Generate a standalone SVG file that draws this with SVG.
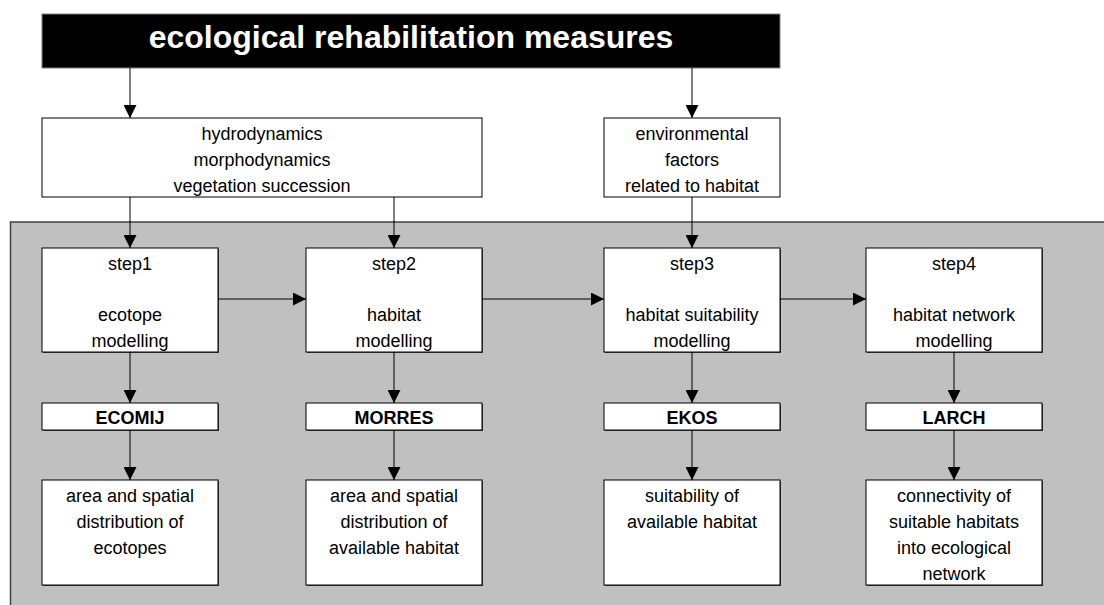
<svg xmlns="http://www.w3.org/2000/svg" width="1104" height="605" viewBox="0 0 1104 605">
<style>
.box{fill:#fff;stroke:#000;stroke-width:1}
.sh{fill:#404040}
.t{font-family:"Liberation Sans",Arial,sans-serif;font-size:18px;fill:#000;text-anchor:middle}
.b{font-weight:bold}
.title{font-family:"Liberation Sans",Arial,sans-serif;font-size:32px;font-weight:bold;fill:#fff;text-anchor:middle}
.c{stroke:#000;stroke-width:1;fill:none;marker-end:url(#ah)}
</style>
<defs>
<marker id="ah" markerUnits="userSpaceOnUse" markerWidth="13" markerHeight="13" refX="13" refY="6.5" orient="auto">
<path d="M0,0 L13,6.5 L0,13 Z" fill="#000"/>
</marker>
</defs>
<rect width="1104" height="605" fill="#fff"/>
<g id="panel">
<rect x="10.5" y="222" width="1100" height="400" fill="#c0c0c0" stroke="#404040" stroke-width="1.5"/>
</g>
<g id="title">
<rect x="42" y="14" width="738" height="54" fill="#000" stroke="#808080" stroke-width="1"/>
<text class="title" x="411" y="48">ecological rehabilitation measures</text>
</g>
<g id="hydro">
<rect class="box" x="42" y="118" width="440" height="79"/>
<text class="t" x="262" y="140">hydrodynamics</text>
<text class="t" x="262" y="166">morphodynamics</text>
<text class="t" x="262" y="192">vegetation succession</text>
</g>
<g id="env">
<rect class="box" x="604" y="118" width="176" height="79"/>
<text class="t" x="692" y="140">environmental</text>
<text class="t" x="692" y="166">factors</text>
<text class="t" x="692" y="192">related to habitat</text>
</g>
<g id="step1">
<rect class="sh" x="43" y="249" width="176" height="104"/>
<rect class="box" x="42" y="248" width="176" height="104"/>
<text class="t" x="130" y="270">step1</text>
<text class="t" x="130" y="321">ecotope</text>
<text class="t" x="130" y="347">modelling</text>
</g>
<g id="step2">
<rect class="sh" x="307" y="249" width="176" height="104"/>
<rect class="box" x="306" y="248" width="176" height="104"/>
<text class="t" x="394" y="270">step2</text>
<text class="t" x="394" y="321">habitat</text>
<text class="t" x="394" y="347">modelling</text>
</g>
<g id="step3">
<rect class="sh" x="605" y="249" width="176" height="104"/>
<rect class="box" x="604" y="248" width="176" height="104"/>
<text class="t" x="692" y="270">step3</text>
<text class="t" x="692" y="321">habitat suitability</text>
<text class="t" x="692" y="347">modelling</text>
</g>
<g id="step4">
<rect class="sh" x="867" y="249" width="176" height="104"/>
<rect class="box" x="866" y="248" width="176" height="104"/>
<text class="t" x="954" y="270">step4</text>
<text class="t" x="954" y="321">habitat network</text>
<text class="t" x="954" y="347">modelling</text>
</g>
<g id="ecomij">
<rect class="sh" x="43" y="404" width="176" height="27"/>
<rect class="box" x="42" y="403" width="176" height="27"/>
<text class="t b" x="130" y="424">ECOMIJ</text>
</g>
<g id="morres">
<rect class="sh" x="307" y="404" width="176" height="27"/>
<rect class="box" x="306" y="403" width="176" height="27"/>
<text class="t b" x="394" y="424">MORRES</text>
</g>
<g id="ekos">
<rect class="sh" x="605" y="404" width="176" height="27"/>
<rect class="box" x="604" y="403" width="176" height="27"/>
<text class="t b" x="692" y="424">EKOS</text>
</g>
<g id="larch">
<rect class="sh" x="867" y="404" width="176" height="27"/>
<rect class="box" x="866" y="403" width="176" height="27"/>
<text class="t b" x="954" y="424">LARCH</text>
</g>
<g id="result1">
<rect class="sh" x="43" y="481" width="176" height="105"/>
<rect class="box" x="42" y="480" width="176" height="105"/>
<text class="t" x="130" y="502">area and spatial</text>
<text class="t" x="130" y="528">distribution of</text>
<text class="t" x="130" y="554">ecotopes</text>
</g>
<g id="result2">
<rect class="sh" x="307" y="481" width="176" height="105"/>
<rect class="box" x="306" y="480" width="176" height="105"/>
<text class="t" x="394" y="502">area and spatial</text>
<text class="t" x="394" y="528">distribution of</text>
<text class="t" x="394" y="554">available habitat</text>
</g>
<g id="result3">
<rect class="sh" x="605" y="481" width="176" height="105"/>
<rect class="box" x="604" y="480" width="176" height="105"/>
<text class="t" x="692" y="502">suitability of</text>
<text class="t" x="692" y="528">available habitat</text>
</g>
<g id="result4">
<rect class="sh" x="867" y="481" width="176" height="105"/>
<rect class="box" x="866" y="480" width="176" height="105"/>
<text class="t" x="954" y="502">connectivity of</text>
<text class="t" x="954" y="528">suitable habitats</text>
<text class="t" x="954" y="554">into ecological</text>
<text class="t" x="954" y="580">network</text>
</g>
<g id="connectors">
<line class="c" x1="130" y1="68" x2="130" y2="118"/>
<line class="c" x1="692" y1="68" x2="692" y2="118"/>
<line class="c" x1="130" y1="197" x2="130" y2="248"/>
<line class="c" x1="394" y1="197" x2="394" y2="248"/>
<line class="c" x1="692" y1="197" x2="692" y2="248"/>
<line class="c" x1="218" y1="299" x2="306" y2="299"/>
<line class="c" x1="482" y1="299" x2="604" y2="299"/>
<line class="c" x1="780" y1="299" x2="866" y2="299"/>
<line class="c" x1="130" y1="352" x2="130" y2="403"/>
<line class="c" x1="394" y1="352" x2="394" y2="403"/>
<line class="c" x1="692" y1="352" x2="692" y2="403"/>
<line class="c" x1="954" y1="352" x2="954" y2="403"/>
<line class="c" x1="130" y1="430" x2="130" y2="480"/>
<line class="c" x1="394" y1="430" x2="394" y2="480"/>
<line class="c" x1="692" y1="430" x2="692" y2="480"/>
<line class="c" x1="954" y1="430" x2="954" y2="480"/>
</g>
</svg>
